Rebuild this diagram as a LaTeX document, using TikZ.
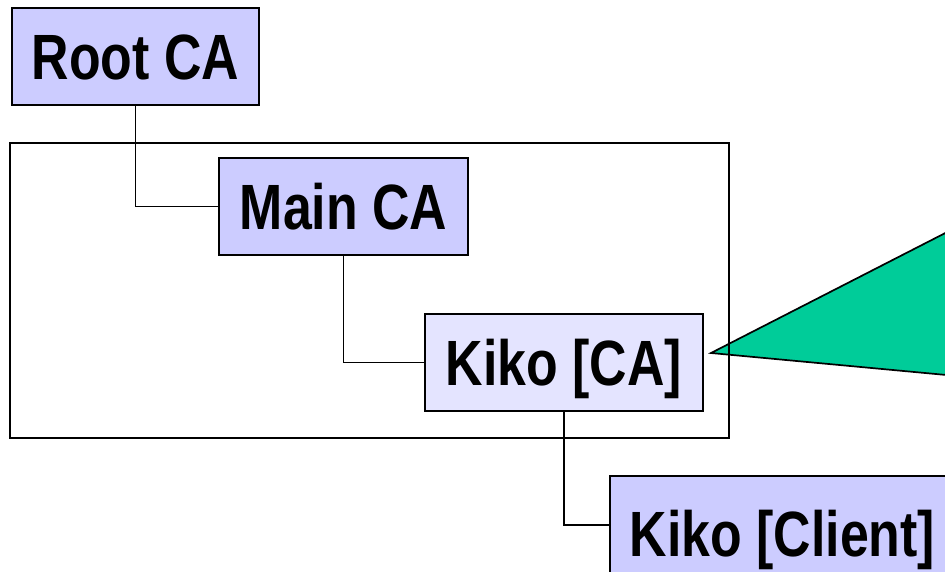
\documentclass[tikz,border=0pt]{standalone}
\usepackage{fontspec}
\setmainfont{Liberation Sans}[FakeStretch=0.81]
\begin{document}
\begin{tikzpicture}[x=1pt,y=-1pt,
  cabox/.style={draw=black, line width=1.7pt, fill=boxblue, inner sep=0pt,
    font=\fontsize{64}{64}\selectfont\bfseries, text height=45pt, text depth=-2pt,
    minimum height=97pt},
  link/.style={draw=black, line width=1.7pt}]
\definecolor{boxblue}{HTML}{CCCCFF}
\definecolor{boxlight}{HTML}{E4E4FF}
\definecolor{tri}{HTML}{00CC99}
\useasboundingbox (0,0) rectangle (945,571);
\clip (0,0) rectangle (945,571);
\fill[tri, draw=black, line width=1.7pt] (711,353) -- (1000,205) -- (1000,380) -- cycle;
\draw[line width=1.7pt] (10,143) rectangle (729,438);
\node[cabox, minimum width=247pt] (root) at (135.5,56.5) {Root CA};
\node[cabox, minimum width=249pt] (main) at (343.5,206.5) {Main CA};
\node[cabox, fill=boxlight, minimum width=278pt] (kca) at (564,362.5) {Kiko [CA]};
\node[cabox, minimum width=345pt, minimum height=115pt] (kcl) at (782.5,533.5) {Kiko [Client]};
\coordinate (elbow) at (0,525);
\draw[link] (root.south) -- (root.south |- main.west) -- (main.west);
\draw[link] (main.south) -- (main.south |- kca.west) -- (kca.west);
\draw[link] (kca.south) -- (kca.south |- elbow) -- (kcl.west |- elbow);
\end{tikzpicture}
\end{document}
